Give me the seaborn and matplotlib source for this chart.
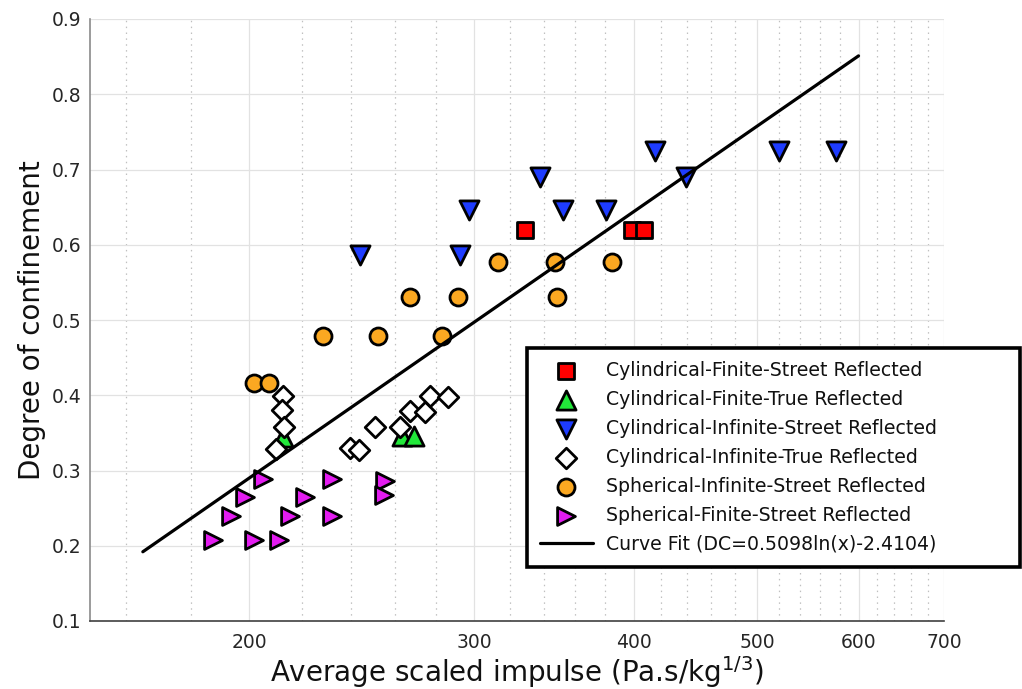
import numpy as np
import pandas as pd
import matplotlib
matplotlib.use("Agg")
import matplotlib.pyplot as plt
import seaborn as sns
from matplotlib.ticker import FixedLocator, FixedFormatter, NullFormatter

# ---------------- data ----------------
cfs_x = [328.8, 398.7, 407.7]
cfs_y = [0.620, 0.620, 0.620]

cft_x = [212.6, 263.2, 269.2]
cft_y = [0.344, 0.346, 0.346]

cis_x = [244.1, 292.6, 297.0, 338.0, 352.3, 380.4, 415.3, 439.6, 519.8, 575.7]
cis_y = [0.586, 0.586, 0.646, 0.690, 0.646, 0.646, 0.725, 0.690, 0.725, 0.725]

cit_x = [212.6, 212.0, 213.0, 209.7, 239.6, 243.5, 250.6, 262.5, 267.2, 274.5, 277.1, 286.1]
cit_y = [0.399, 0.381, 0.358, 0.328, 0.330, 0.327, 0.358, 0.358, 0.379, 0.378, 0.399, 0.398]

sis_x = [201.5, 207.2, 228.5, 252.0, 282.9, 267.2, 291.3, 313.4, 347.1, 348.2, 384.8]
sis_y = [0.416, 0.416, 0.479, 0.479, 0.479, 0.531, 0.531, 0.577, 0.577, 0.531, 0.577]

sfs_x = [204.9, 198.4, 193.5, 187.4, 201.8, 211.0, 215.3, 221.1, 232.2, 232.2, 255.4, 254.7]
sfs_y = [0.289, 0.265, 0.240, 0.208, 0.208, 0.207, 0.240, 0.265, 0.289, 0.240, 0.286, 0.267]

fit_x = [165.0, 600.0]
fit_y = [0.192, 0.851]

series_names = [
    "Cylindrical-Finite-Street Reflected",
    "Cylindrical-Finite-True Reflected",
    "Cylindrical-Infinite-Street Reflected",
    "Cylindrical-Infinite-True Reflected",
    "Spherical-Infinite-Street Reflected",
    "Spherical-Finite-Street Reflected",
]
fit_label = "Curve Fit (DC=0.5098ln(x)-2.4104)"

x_major = [200, 300, 400, 500, 600, 700]
x_minor = [160, 180, 220, 240, 260, 280, 320, 340, 360, 380, 420, 440, 460, 480,
           520, 540, 560, 580, 620, 640, 660, 680]
y_ticks = [0.1, 0.2, 0.3, 0.4, 0.5, 0.6, 0.7, 0.8, 0.9]

# ---------------- styling ----------------
sns.set_theme(style="white")
plt.rcParams['font.family'] = ['DejaVu Sans']

series_x = [cfs_x, cft_x, cis_x, cit_x, sis_x, sfs_x]
series_y = [cfs_y, cft_y, cis_y, cit_y, sis_y, sfs_y]
colors = ['#ff0000', '#22e83a', '#1e3cff', '#ffffff', '#fba821', '#e31cf0']
markers = ['s', '^', 'v', 'D', 'o', '>']
sizes = [130, 190, 190, 110, 150, 165]

fig = plt.figure(figsize=(10.22, 6.89), dpi=100)
ax = fig.add_axes([90/1022, 1-621/689, (944-90)/1022, (621-19)/689])

ax.set_xscale('log')
ax.set_xlim(150, 700)
ax.set_ylim(0.1, 0.9)

for name, xs, ys, c, m, s in zip(series_names, series_x, series_y, colors, markers, sizes):
    df = pd.DataFrame({'x': xs, 'y': ys})
    sns.scatterplot(data=df, x='x', y='y', ax=ax, marker=m, s=s, color=c,
                    edgecolor='black', linewidth=2.0, zorder=3, label=name, legend=False)

fit_df = pd.DataFrame({'x': fit_x, 'y': fit_y})
sns.lineplot(data=fit_df, x='x', y='y', ax=ax, color='black', lw=2.3, zorder=4,
             label=fit_label, legend=False, estimator=None, sort=False)

ax.xaxis.set_major_locator(FixedLocator(x_major))
ax.xaxis.set_major_formatter(FixedFormatter([str(v) for v in x_major]))
ax.xaxis.set_minor_locator(FixedLocator(x_minor))
ax.xaxis.set_minor_formatter(NullFormatter())
ax.set_yticks(y_ticks)
ax.set_yticklabels([f"{v:.1f}" for v in y_ticks])

ax.grid(True, which='major', axis='both', color='#e2e2e2', lw=0.9, ls='-')
ax.grid(True, which='minor', axis='x', color='#c0c0c0', lw=0.9, ls=(0, (1.2, 3.5)))
ax.set_axisbelow(True)

for sp in ['top', 'right']:
    ax.spines[sp].set_visible(False)
ax.spines['left'].set_color('#8a8a8a')
ax.spines['left'].set_linewidth(1.2)
ax.spines['bottom'].set_color('#404040')
ax.spines['bottom'].set_linewidth(1.2)

ax.tick_params(axis='x', which='major', direction='in', length=7, width=1, color='#404040',
               labelsize=13.5, labelcolor='#262626', pad=9)
ax.tick_params(axis='x', which='minor', direction='in', length=4, width=1, color='#404040')
ax.tick_params(axis='y', which='major', direction='in', length=7, width=1, color='#505050',
               labelsize=13.5, labelcolor='#262626', pad=6)

ax.set_xlabel("Average scaled impulse (Pa.s/kg$^{1/3}$)", fontsize=20, color='#111111', labelpad=1)
ax.set_ylabel("Degree of confinement", fontsize=20, color='#111111', labelpad=4)

h, l = ax.get_legend_handles_labels()
order = [l.index(n) for n in series_names] + [l.index(fit_label)]
lx0, lx1, ly0, ly1 = 527/1022, 1020/1022, 1-566/689, 1-348/689
leg = ax.legend([h[i] for i in order], [l[i] for i in order],
                loc='upper left', bbox_to_anchor=(lx0, ly0, lx1-lx0, ly1-ly0),
                bbox_transform=fig.transFigure, borderaxespad=0, mode='expand',
                fontsize=13.6, frameon=True, fancybox=False, framealpha=1,
                edgecolor='black', labelspacing=0.53, handletextpad=0.71,
                handlelength=2.8, borderpad=0.68)
leg.get_frame().set_linewidth(2.6)
leg.set_zorder(10)
for t in leg.get_texts():
    t.set_color('#111111')

fig.savefig('out.png', dpi=100)
